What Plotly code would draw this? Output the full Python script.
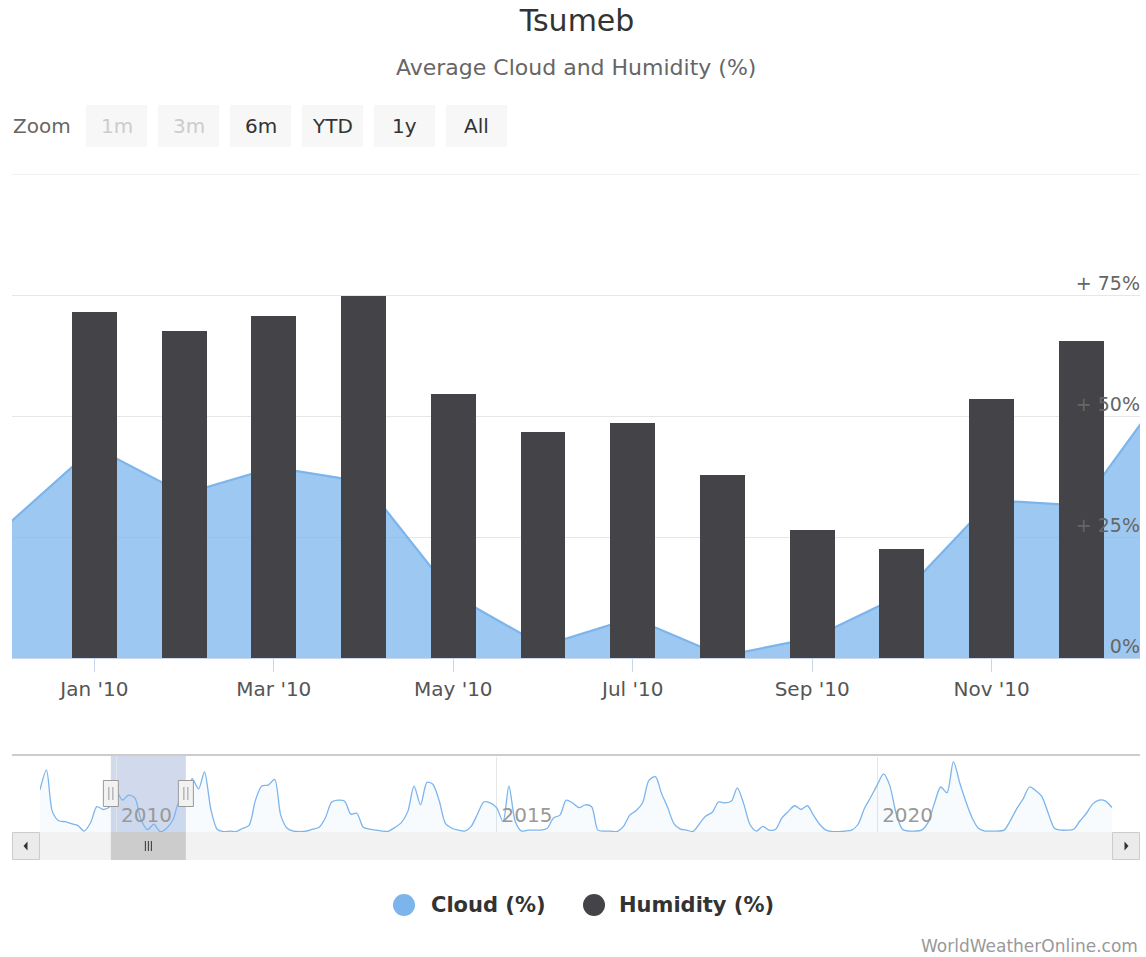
import plotly.graph_objects as go
import pandas as pd

# ------------------------------------------------------------------ data
cloud_months = ["2009-12-01", "2010-01-01", "2010-02-01", "2010-03-01", "2010-04-01",
                "2010-05-01", "2010-06-01", "2010-07-01", "2010-08-01", "2010-09-01",
                "2010-10-01", "2010-11-01", "2010-12-01", "2011-01-01"]
cloud_pct = [27.0, 43.6, 33.9, 39.4, 36.4, 13.0, 2.5, 8.3, 0.4, 4.1, 13.0, 32.6, 31.5, 57.0]

humidity_months = ["2010-01-01", "2010-02-01", "2010-03-01", "2010-04-01", "2010-05-01",
                   "2010-06-01", "2010-07-01", "2010-08-01", "2010-09-01", "2010-10-01",
                   "2010-11-01", "2010-12-01"]
humidity_pct = [71.5, 67.6, 70.7, 74.8, 54.5, 46.7, 48.6, 37.8, 26.4, 22.5, 53.5, 65.5]

nav_first_month = "2009-01-01"
nav_cloud_pct = [
    45, 66, 22, 12, 11, 9, 7, 1, 10, 27, 24, 27,                          # 2009
    43.6, 33.9, 39.4, 36.4, 13.0, 2.5, 8.3, 0.4, 4.1, 13.0, 32.6, 31.5,   # 2010
    57, 46, 64, 24, 3, 0.5, 1, 0.5, 4, 7, 34, 49,                         # 2011
    50, 56, 18, 4, 1, 0.5, 1, 3, 5, 15, 32, 34,                           # 2012
    33, 19, 20, 5, 3, 2, 1, 1, 5, 10, 22, 49,                             # 2013
    29, 53, 51, 33, 9, 4, 2, 1, 6, 19, 32, 31,                            # 2014
    26, 11, 49, 11, 1, 2, 2, 2, 4, 15, 18, 34,                            # 2015
    31, 26, 29, 27, 2, 1, 1, 0.5, 6, 18, 23, 31,                          # 2016
    55, 59, 42, 26, 9, 3, 2, 0.5, 9, 17, 21, 32,                          # 2017
    31, 33, 47, 30, 8, 1, 6, 2, 3, 15, 22, 28,                            # 2018
    24, 28, 18, 8, 2, 0.5, 0.5, 1, 2, 8, 25, 37,                          # 2019
    50, 62, 50, 20, 3, 1, 1, 2, 10, 30, 48, 42,                           # 2020
    75, 52, 33, 15, 4, 1, 1, 1, 2, 12, 25, 35,                            # 2021
    48, 44, 38, 20, 4, 2, 2, 3, 12, 20, 30, 34,                           # 2022
    33, 26,                                                               # 2023
]

y_tick_vals = [0, 25, 50, 75]
y_tick_text = ["0%", "+ 25%", "+ 50%", "+ 75%"]

zoom_labels = ["1m", "3m", "6m", "YTD", "1y", "All"]
zoom_enabled = [False, False, True, True, True, True]

series_names = ["Cloud (%)", "Humidity (%)"]

main_range = [0.082, 12.654]          # ordinal (equally spaced months) axis extent
nav_window = ["2009-12-07", "2010-12-02"]
# ------------------------------------------------------------------ layout helpers
W, H = 1146, 957
FONT = "DejaVu Sans, Verdana, sans-serif"
CLOUD = "#7cb5ec"
HUMID = "#434348"


def X(px):
    return px / W


def Y(py):
    return 1 - py / H


# Highstock uses an ordinal axis: months are equally spaced -> category axis
cloud_labels = list(pd.to_datetime(cloud_months).strftime("%b '%y"))
humidity_labels = list(pd.to_datetime(humidity_months).strftime("%b '%y"))
tick_labels = humidity_labels[0::2]

nav_months = pd.date_range(nav_first_month, periods=len(nav_cloud_pct), freq="MS")
nav_end = nav_months[-1]

fig = go.Figure()

fig.add_trace(go.Scatter(
    x=cloud_labels, y=cloud_pct, name=series_names[0], mode="lines",
    line=dict(color=CLOUD, width=2.2), fill="tozeroy",
    fillcolor="rgba(124,181,236,0.75)", xaxis="x", yaxis="y",
    showlegend=False))

fig.add_trace(go.Bar(
    x=humidity_labels, y=humidity_pct, name=series_names[1],
    marker=dict(color=HUMID, line=dict(width=0)), width=0.5,
    xaxis="x", yaxis="y3", showlegend=False))

fig.add_trace(go.Scatter(
    x=nav_months, y=nav_cloud_pct, mode="lines",
    line=dict(color=CLOUD, width=1.3, shape="spline", smoothing=0.8),
    fill="tozeroy", fillcolor="rgba(124,181,236,0.06)",
    xaxis="x2", yaxis="y2", showlegend=False, hoverinfo="skip"))

shapes = []
annotations = []

# 100 % gridline at the top of the plot
shapes.append(dict(type="line", xref="paper", yref="y", x0=X(12), x1=X(1140),
                   y0=100, y1=100, line=dict(color="#e6e6e6", width=1)))

# zoom buttons
annotations.append(dict(text="Zoom", xref="paper", yref="paper", x=X(11), y=Y(126),
                        xanchor="left", yanchor="middle", showarrow=False,
                        font=dict(family=FONT, size=20, color="#666666")))
for i, (lab, en) in enumerate(zip(zoom_labels, zoom_enabled)):
    x0 = 86 + i * 72
    shapes.append(dict(type="rect", xref="paper", yref="paper",
                       x0=X(x0), x1=X(x0 + 61), y0=Y(147), y1=Y(105),
                       fillcolor="#f7f7f7", line=dict(width=0), layer="below"))
    annotations.append(dict(text=lab, xref="paper", yref="paper", x=X(x0 + 30.5), y=Y(126),
                            xanchor="center", yanchor="middle", showarrow=False,
                            font=dict(family=FONT, size=20,
                                      color="#333333" if en else "#cccccc")))

# subtitle
annotations.append(dict(text="Average Cloud and Humidity (%)", xref="paper", yref="paper",
                        x=X(576), y=Y(68), xanchor="center", yanchor="middle",
                        showarrow=False, font=dict(family=FONT, size=22, color="#666666")))

# navigator top outline
shapes.append(dict(type="line", xref="paper", yref="paper", x0=X(12), x1=X(1140),
                   y0=Y(755), y1=Y(755), line=dict(color="#cccccc", width=2)))
# navigator mask
shapes.append(dict(type="rect", xref="x2", yref="paper", x0=nav_window[0], x1=nav_window[1],
                   y0=Y(832), y1=Y(756), fillcolor="rgba(102,133,194,0.3)",
                   line=dict(width=0), layer="below"))
# scrollbar track
shapes.append(dict(type="rect", xref="paper", yref="paper", x0=X(12), x1=X(1140),
                   y0=Y(860), y1=Y(832), fillcolor="#f2f2f2", line=dict(width=0)))
# scrollbar buttons
for bx in (12, 1112):
    shapes.append(dict(type="rect", xref="paper", yref="paper", x0=X(bx + 0.5), x1=X(bx + 27.5),
                       y0=Y(859.5), y1=Y(832.5), fillcolor="#ebebeb",
                       line=dict(color="#cccccc", width=1)))
shapes.append(dict(type="path", xref="paper", yref="paper",
                   path=f"M {X(23.5)} {Y(846)} L {X(27.5)} {Y(841.5)} L {X(27.5)} {Y(850.5)} Z",
                   fillcolor="#333333", line=dict(width=0)))
shapes.append(dict(type="path", xref="paper", yref="paper",
                   path=f"M {X(1128.5)} {Y(846)} L {X(1124.5)} {Y(841.5)} L {X(1124.5)} {Y(850.5)} Z",
                   fillcolor="#333333", line=dict(width=0)))
# scrollbar thumb
shapes.append(dict(type="rect", xref="x2", yref="paper", x0=nav_window[0], x1=nav_window[1],
                   y0=Y(860), y1=Y(832), fillcolor="#cccccc", line=dict(width=0)))
win_mid = pd.Timestamp(nav_window[0]) + (pd.Timestamp(nav_window[1]) - pd.Timestamp(nav_window[0])) / 2
for dx in (-3, 0, 3):
    shapes.append(dict(type="line", xref="x2", yref="paper", xsizemode="pixel",
                       xanchor=str(win_mid), x0=dx, x1=dx, y0=Y(851), y1=Y(841),
                       line=dict(color="#333333", width=1)))
# navigator handles
for edge in nav_window:
    shapes.append(dict(type="rect", xref="x2", yref="paper", xsizemode="pixel", xanchor=edge,
                       x0=-7.5, x1=7.5, y0=Y(806.5), y1=Y(780.5), fillcolor="#f2f2f2",
                       line=dict(color="#999999", width=1)))
    for dx in (-2, 2):
        shapes.append(dict(type="line", xref="x2", yref="paper", xsizemode="pixel", xanchor=edge,
                           x0=dx, x1=dx, y0=Y(800), y1=Y(787),
                           line=dict(color="#999999", width=1)))

# legend (circle symbols + bold labels)
legend_items = [(series_names[0], CLOUD, 404, 429), (series_names[1], HUMID, 594, 617)]
for name, col, cx, tx in legend_items:
    shapes.append(dict(type="circle", xref="paper", yref="paper",
                       x0=X(cx - 11), x1=X(cx + 11), y0=Y(916), y1=Y(894),
                       fillcolor=col, line=dict(width=0)))
    annotations.append(dict(text=f"<b>{name}</b>", xref="paper", yref="paper",
                            x=X(tx), y=Y(905), xanchor="left", yanchor="middle",
                            showarrow=False, font=dict(family=FONT, size=21, color="#333333")))

# credits
annotations.append(dict(text="WorldWeatherOnline.com", xref="paper", yref="paper",
                        x=X(1140), y=Y(946), xanchor="right", yanchor="middle",
                        showarrow=False, font=dict(family=FONT, size=17, color="#999999")))

fig.update_layout(
    width=W, height=H, autosize=False,
    margin=dict(l=0, r=0, t=0, b=0),
    paper_bgcolor="white", plot_bgcolor="white",
    font=dict(family=FONT, color="#333333"),
    title=dict(text="Tsumeb", x=X(577), xanchor="center", y=Y(20), yanchor="middle",
               font=dict(family=FONT, size=30, color="#333333")),
    showlegend=False,
    bargap=0,
    xaxis=dict(type="category", categoryorder="array", categoryarray=cloud_labels,
               domain=[X(12), X(1140)], anchor="y", range=main_range,
               tickmode="array", tickvals=tick_labels,
               ticks="outside", ticklen=13, tickcolor="#ccd6eb", tickwidth=1,
               showline=True, linecolor="#ccd6eb", linewidth=1, showgrid=False,
               zeroline=False, tickfont=dict(family=FONT, size=20, color="#555555"),
               fixedrange=True),
    yaxis=dict(domain=[Y(658), Y(174)], anchor="x", range=[0, 100], side="right",
               tickvals=y_tick_vals, ticktext=y_tick_text, ticklabelposition="inside top",
               ticklabelstandoff=-3, ticklabelshift=2,
               ticks="", showgrid=True, gridcolor="#e6e6e6", gridwidth=1,
               zeroline=False, showline=False,
               tickfont=dict(family=FONT, size=19, color="#666666"), fixedrange=True),
    yaxis3=dict(overlaying="y", anchor="x", range=[0, 100], visible=False, fixedrange=True),
    xaxis2=dict(type="date", domain=[X(40), X(1112)], anchor="y2",
                range=[nav_first_month, str(nav_end)],
                tick0="2010-01-01", dtick="M60", tickformat="%Y",
                ticklabelposition="inside right", ticklabelshift=5, ticks="", showgrid=True,
                gridcolor="#e6e6e6", zeroline=False, showline=False,
                tickfont=dict(family=FONT, size=20, color="#999999"), fixedrange=True),
    yaxis2=dict(domain=[Y(832), Y(757)], anchor="x2", range=[0, 80], visible=False,
                showgrid=False, fixedrange=True),
    shapes=shapes,
    annotations=annotations,
)

fig.write_html("out.html", config={"displayModeBar": False},
               post_script="document.body.style.margin='0';")
